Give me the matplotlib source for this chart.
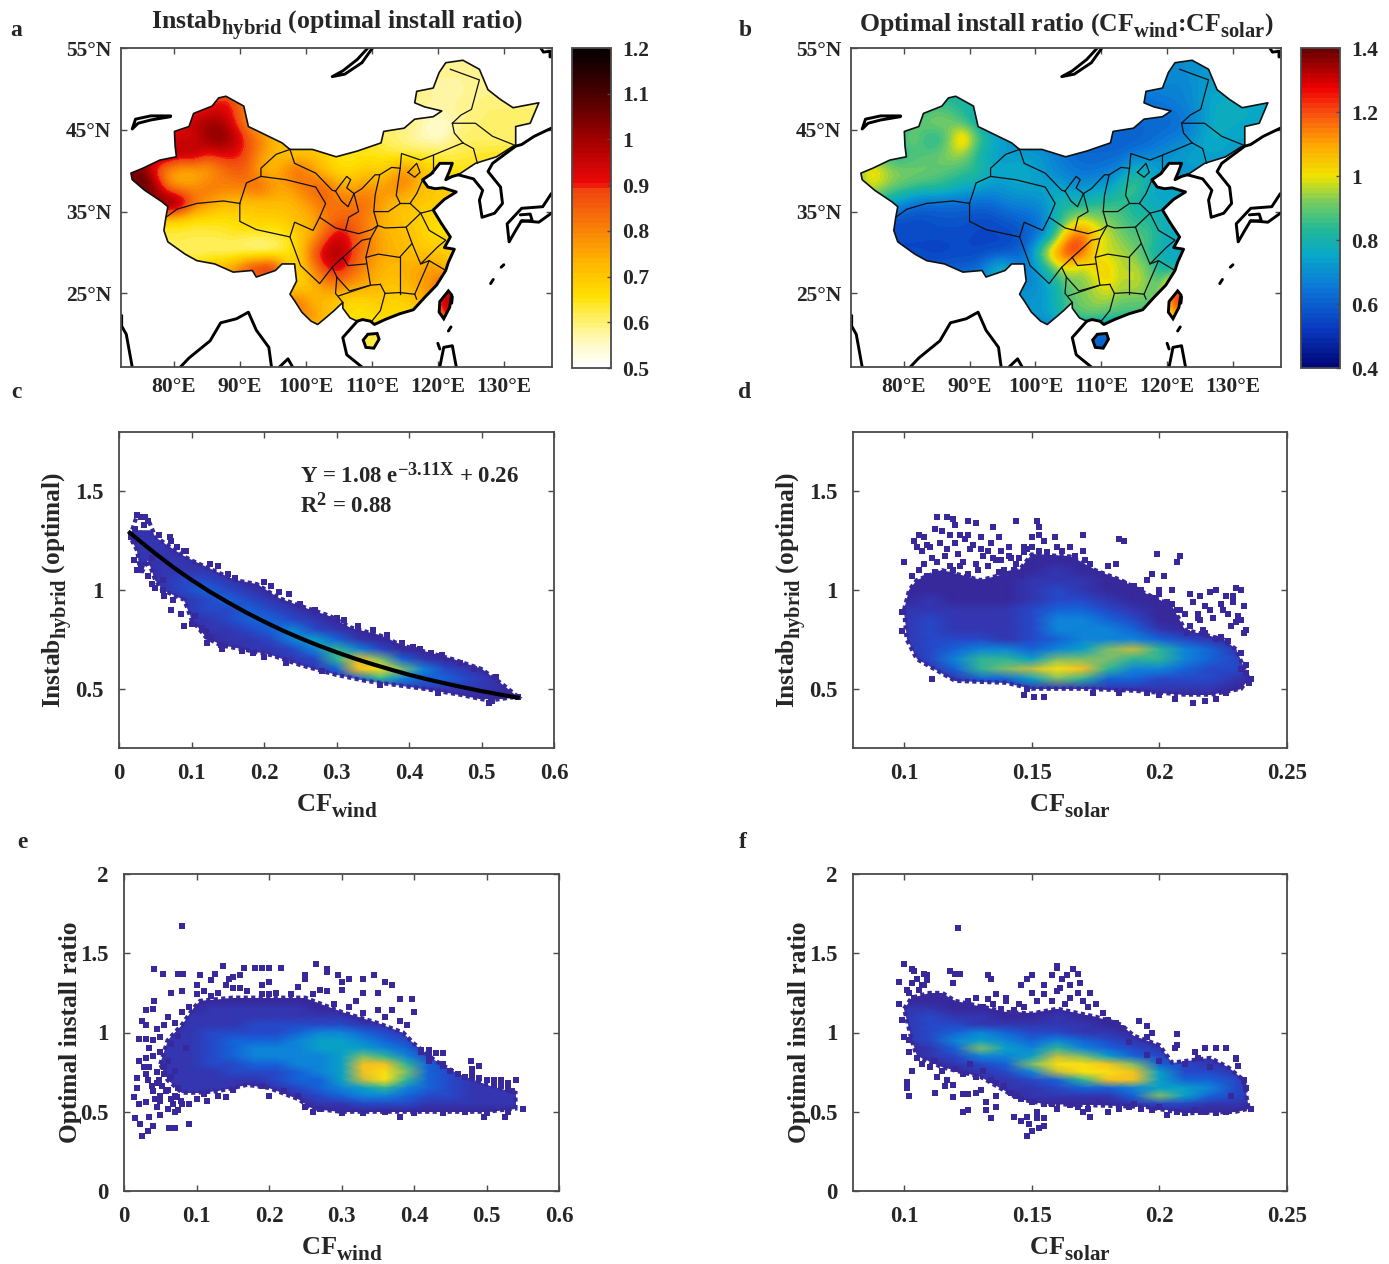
import numpy as np
import matplotlib
matplotlib.use('Agg')
import matplotlib.pyplot as plt
import matplotlib._mathtext as mt
from matplotlib.colors import LinearSegmentedColormap
from matplotlib.patches import PathPatch, Polygon
from matplotlib.path import Path

plt.rcParams['font.family'] = ['Liberation Serif', 'DejaVu Serif']
plt.rcParams['font.weight'] = 'bold'
plt.rcParams['mathtext.fontset'] = 'custom'
plt.rcParams['mathtext.rm'] = 'Liberation Serif:bold'
plt.rcParams['mathtext.it'] = 'Liberation Serif:bold'
plt.rcParams['mathtext.bf'] = 'Liberation Serif:bold'
plt.rcParams['mathtext.default'] = 'rm'
# the subscripts in the picture are larger and sit lower than the defaults
mt.SHRINK_FACTOR = 0.8
mt.FontConstantsBase.sub1 = 0.55

W, H = 1389, 1264
TXT = '#262626'
EDGE = '#4a4a4a'
TICK_FS = 15.5
CLOUD = '#37289b'

# ---- map data, lon/lat
map_lons = [73, 75, 77, 79, 81, 83, 85, 87, 89, 91, 93, 95, 97, 99, 101, 103,
            105, 107, 109, 111, 113, 115, 117, 119, 121, 123, 125, 127, 129, 131, 133, 135]
map_lats = [54, 52, 50, 48, 46, 44, 42, 40, 38, 36, 34, 32, 30, 28, 26, 24, 22, 20, 18]

instab_map = [
    [60,60,60,60,60,60,60,60, 60,60,60,60,60,60,60,60, 60,60,60,60,60,60,60,60, 58,58,58,58,58,58,58,58],
    [60,60,60,60,60,60,60,60, 60,60,60,60,60,60,60,60, 60,60,60,60,60,60,60,58, 58,58,58,58,58,58,58,58],
    [85,85,85,85,85,85,85,85, 85,80,70,65,65,65,65,65, 65,65,65,65,65,60,60,57, 57,57,58,58,58,58,58,58],
    [85,85,85,85,85,85,88,92, 90,80,70,65,65,65,65,65, 65,65,65,65,65,60,58,58, 58,58,58,60,60,60,60,60],
    [85,85,85,85,90,98,100,100, 90,80,70,65,65,65,65,65, 65,65,62,60,60,60,58,54, 54,58,60,60,60,60,60,60],
    [85,85,88,92,95,92,102,105, 100,88,82,75,70,68,66,65, 64,63,63,62,60,58,56,54, 55,60,60,60,60,60,60,60],
    [95,95,100,102,98,100,90,92, 92,88,78,72,70,70,72,68, 65,64,65,64,63,62,62,63, 62,62,63,64,64,64,64,64],
    [100,108,88,76,72,72,74,80, 85,85,74,72,80,85,76,70, 66,66,70,68,72,80,75,68, 66,65,65,65,65,65,65,65],
    [100,112,105,80,76,78,82,82, 80,82,86,78,75,80,85,86, 76,75,78,76,80,80,72,70, 70,68,66,66,66,66,66,66],
    [80,88,105,112,105,85,78,72, 72,70,70,72,72,74,78,84, 82,82,84,78,72,70,70,70, 68,68,66,66,66,66,66,66],
    [70,72,68,66,66,64,65,65, 66,68,70,68,70,72,74,80, 84,85,80,74,72,70,68,66, 66,66,66,66,66,66,66,66],
    [68,66,64,62,62,62,62,62, 64,62,62,62,64,70,74,86, 96,88,82,76,72,72,70,66, 66,66,66,66,66,66,66,66],
    [66,64,62,60,62,60,60,60, 58,58,56,58,62,68,86,98, 100,90,82,76,74,72,70,70, 70,66,66,66,66,66,66,66],
    [66,66,66,66,66,66,72,74, 80,92,98,100,72,68,78,90, 94,85,78,74,72,74,76,78, 72,72,72,72,72,72,72,72],
    [72,72,72,72,72,72,72,72, 72,72,72,72,70,65,72,78, 80,76,76,72,70,72,76,76, 92,92,72,72,72,72,72,72],
    [72,72,72,72,72,72,72,72, 72,72,72,72,78,85,72,72, 68,66,66,70,68,68,72,80, 100,100,72,72,72,72,72,72],
    [72,72,72,72,72,72,72,72, 72,72,72,72,78,78,80,72, 68,66,66,66,66,66,66,66, 90,90,72,72,72,72,72,72],
    [66,66,66,66,66,66,66,66, 66,66,66,66,66,66,66,66, 66,66,62,62,66,66,66,66, 66,66,66,66,66,66,66,66],
    [66,66,66,66,66,66,66,66, 66,66,66,66,66,66,66,66, 66,66,62,62,66,66,66,66, 66,66,66,66,66,66,66,66],
]
ratio_map = [
    [70,70,70,70,70,70,70,70, 70,70,70,70,70,70,70,70, 70,70,70,70,70,70,70,70, 70,70,70,70,70,70,70,70],
    [70,70,70,70,70,70,70,70, 70,70,70,70,70,70,70,70, 70,70,70,70,70,70,70,70, 68,70,72,72,72,72,72,72],
    [80,80,80,80,80,80,80,80, 80,75,70,65,65,65,65,65, 65,65,65,65,65,65,66,68, 68,68,72,74,74,74,74,74],
    [80,80,80,80,80,82,85,85, 82,80,70,65,65,65,65,65, 65,65,65,65,65,62,64,64, 66,68,72,76,78,76,76,76],
    [80,80,80,80,85,92,95,92, 85,78,70,65,65,65,65,62, 62,62,62,62,62,62,62,62, 62,66,70,76,78,76,76,76],
    [85,85,80,80,95,85,80,92, 112,92,80,75,70,68,66,62, 60,60,60,60,60,60,62,64, 66,68,74,78,74,74,74,74],
    [90,90,85,80,85,88,90,95, 95,82,75,72,72,72,72,68, 64,62,62,62,62,66,66,70, 72,74,74,74,74,74,74,74],
    [90,105,98,94,92,92,90,88, 85,85,78,75,78,75,72,68, 66,64,64,66,70,80,78,72, 72,72,72,72,72,72,72,72],
    [90,100,95,90,88,85,85,82, 78,75,72,72,74,75,74,76, 72,70,74,72,82,90,78,74, 74,74,74,74,74,74,74,74],
    [82,80,78,72,65,62,62,62, 62,62,62,66,68,68,70,78, 82,80,82,85,85,80,76,76, 76,74,74,74,74,74,74,74],
    [62,60,58,56,56,56,58,58, 58,56,56,58,60,62,66,78, 90,100,95,92,88,84,84,78, 78,78,78,78,78,78,78,78],
    [60,58,56,56,56,56,56,56, 56,55,55,55,56,60,66,85, 115,120,105,98,92,88,88,80, 76,76,76,76,76,76,76,76],
    [60,58,56,55,55,55,54,55, 56,55,56,56,60,66,95,115, 125,122,100,96,96,92,84,78, 75,75,75,75,75,75,75,75],
    [60,60,60,60,60,60,60,60, 60,62,75,85,70,66,75,90, 100,92,104,105,95,98,92,80, 78,78,78,78,78,78,78,78],
    [70,70,70,70,70,70,70,70, 70,70,70,70,68,68,72,78, 90,92,95,102,95,98,92,90, 120,120,70,70,70,70,70,70],
    [70,70,70,70,70,70,70,70, 70,70,70,70,72,72,72,78, 88,92,95,95,90,90,90,90, 125,125,70,70,70,70,70,70],
    [70,70,70,70,70,70,70,70, 70,70,70,70,72,72,72,78, 85,88,88,85,85,85,85,85, 110,110,70,70,70,70,70,70],
    [60,60,60,60,60,60,60,60, 60,60,60,60,60,60,60,60, 60,60,60,60,60,60,60,60, 60,60,60,60,60,60,60,60],
    [60,60,60,60,60,60,60,60, 60,60,60,60,60,60,60,60, 60,60,60,60,60,60,60,60, 60,60,60,60,60,60,60,60],
]

china_coast = [(123.1,39.5),(122.2,39.3),(121.2,38.9),(121.7,39.8),(122.2,40.9),(121.2,40.9),(120.3,40.9),(119,39.6),(117.7,38.9),
               (118.5,38),(119.6,37.8),(120.8,37.9),(122.8,37.4),(121,36.5),(119.3,35.2),(120.5,33.6),(121.9,31.9),(121,30.6),
               (122.5,30.4),(121.6,28.8),(121.2,27.8),(119.8,26),(118,24.5),(116.3,23),(114.2,22.5),(112,21.8),(110.4,21.2),
               (109.8,21.6),(108.6,21.8),(107.8,21.6)]
china_land = [(106.7,22),(105.6,23.2),(105.6,23.9),(104.3,22.9),(103,22),(101.8,21.2),(100.8,21.6),(99.4,22.7),(98.3,24.1),(97.6,24.9),
              (98.6,26.5),(98.3,28.6),(96.4,28.6),(95.4,27.8),(92.5,27),(91.9,27.8),(89,27.6),(86.2,28.6),(83.5,29),(81.7,29.8),(79.1,31.3),
              (78.5,32.7),(78.8,34.3),(79.1,35.6),(78.2,36.2),(75.6,37.6),(73.7,38.9),(73.5,39.7),(75.3,40.3),
              (77.9,41.3),(80.4,41.7),(80.2,43),(80.1,44.8),(82.3,45.4),(83,47),(85.8,47.9),(86.8,48.9),(87.9,49.1),
              (90.6,47.9),(91.3,45.4),(96.4,43.4),(97.6,42.6),(101,42.6),(104.6,41.7),(107.8,42.4),(111.4,43.4),(111.8,44.8),
              (114.9,45.2),(116.5,46.3),(119.3,46.6),(120.6,47.3),(118,47.8),(116.5,48.3),(116.8,49.7),(119.3,50.1),(120.2,52),(121.2,53.2),(123.8,53.5),
              (126.3,52.4),(127.6,49.9),(129.5,48.7),(131.4,47.7),(135.3,48.3),(134,45.8),(131.8,45.4),(131.8,43.2),(128.9,41.7),
              (125.7,40.9)]
taiwan = [(121.6,25.3),(122.1,24.8),(121.8,23.3),(120.9,21.9),(120.2,22.7),(120.3,24)]
hainan = [(109.4,20),(110.8,20.1),(111.1,19.4),(110.3,18.3),(109.1,18.4),(108.7,19.3)]

other_coasts = [
    [(109.4,55),(107.8,53.6),(105.6,52.2),(104,51.5),(105.9,51.8),(108.5,53.2),(110.1,55)],
    [(79.5,46.7),(76.5,46.7),(74.2,46.3),(73.7,45.1),(74.6,45.8),(76.5,46.2),(79.5,46.6)],
    [(135.6,55),(136,54.5),(137,54.6),(137,53.9)],
    [(123.1,39.5),(125.4,39),(126.8,37.6),(126.3,36.4),(126.7,34.3),(128.6,34.8),(129.8,36),(129.5,38),
     (127.6,39.9),(128.3,40.9),(131.8,43),(132.7,43.2),(134.6,44.2),(137.2,45.2)],
    [(137.2,37.2),(135.9,35.6),(132.7,35.4),(130.5,33.5),(130.8,31.3),(131.8,32.7),(132.7,33.9),(135.3,33.7),(137.2,34.8)],
    [(132.5,34.6),(134,34.7),(134.3,33.9),(132.6,33.8)],
    [(129.6,28.2),(130,28.5)],
    [(128,26.2),(128.4,26.7)],
    [(122.2,24.6),(122.1,23.8)],
    [(122,20.9),(121.6,20.4)],
    [(72.1,22.3),(72.1,21),(72.8,20),(73.7,16)],
    [(81,16),(82.3,17.1),(85.5,19.2),(87.1,21.4),(89.5,21.9),(91.3,22.7),(92.5,20.5),(94.4,18.4),(94.8,16)],
    [(96,16),(97.3,17),(98,16)],
    [(107.8,21.6),(105.6,19.6),(106.2,17.5),(108.5,16)],
    [(120.3,16),(120.9,18.4),(122.2,18.6),(122.8,16)],
    [(120,18.9),(120.3,18.2)],
]
province_lines = [
    [(78.8,34.3),(80.5,35.3),(83.5,36),(87.5,36.3),(90,36)],
    [(90,36),(91,38.5),(93.2,39.3),(93.2,40.3),(95.5,42),(97.6,42.6)],
    [(93.2,39.3),(97,38.9),(101.5,38),(103,36),(102.1,34.3),(101.1,32.7),(98.3,33.7),(97.6,31.9),(92.5,32.8),(90,33.8),(90,36)],
    [(97.6,31.9),(99.2,28.4),(102.1,26.2),(104,28.2),(104.7,27),(106.6,25.3),(109.8,26),(111.3,26.1)],
    [(104.7,27),(104.5,25),(105.6,23.9)],
    [(97.6,42.6),(98.3,40.9),(101.5,39.7),(104,37.6),(104.5,37.5)],
    [(102.1,34.3),(104.5,33),(106,32.7),(106.5,34.3),(108,35),(107.3,37.2)],
    [(104.5,37.5),(106.2,39.3),(106.8,38.9),(106.2,37.9),(107.3,37.2),(106.4,35.6),(105.4,36.3),(104.5,37.5)],
    [(107.3,37.2),(108.5,37.8),(110.5,39.5),(111.2,39.5),(110.5,37),(110.3,35),(110.9,33.3),(110,32.8),(108,32.3),(106,32.7)],
    [(111.2,39.5),(113,40.4),(114.3,40.3),(113.7,37),(114.3,36),(112.5,35),(110.3,35)],
    [(114.3,40.3),(114.5,42.1),(117.4,41.3),(119.3,41.9),(123.8,43.4)],
    [(119.3,39.7),(119.3,41.9)],
    [(115.5,39.8),(116.8,40.9),(117.3,39.8),(116.5,39.2),(115.5,39.8)],
    [(123.8,43.4),(125.4,42.7),(126,40.9)],
    [(121.9,52.4),(126.3,51.1),(125.1,47.5),(123.5,46.8),(122.2,45.8),(122.5,44.6),(123.8,43.4)],
    [(122.2,45.8),(125.7,45.8),(128.3,44.2),(131.4,43.2)],
    [(117.7,38.9),(116.8,37.2),(115.8,36),(117.4,34.8),(119.3,35.2)],
    [(114.3,36),(115.8,36)],
    [(110.9,33.3),(112,33),(115.2,33.1),(117.4,34.8)],
    [(115.2,33.1),(116.1,31.1),(114.2,29.4),(111,29.8),(109.1,29.4),(109.8,31.7),(110.9,33.3)],
    [(117.4,34.8),(118.7,32.7),(121.2,31.5),(120,30.7),(117.4,28.6),(116.1,31.1)],
    [(114.2,29.4),(114.2,24.9)],
    [(117.4,28.6),(118.7,29),(116.5,24.9),(116.8,24.3)],
    [(118.7,29),(121.2,27.8)],
    [(111.3,26.1),(112,25),(114.2,25.1),(116.5,24.9)],
    [(112,25),(111.3,22.9),(110,21.6)],
    [(105,24.7),(109.8,26),(109.1,29.4)],
    [(104,28.2),(105.6,29.4),(108.5,31.5),(109.8,31.7)],
    [(105.6,29.4),(106.4,28.4),(109.1,28.6)],
]

map_lon_ticks = [80, 90, 100, 110, 120, 130]
map_lat_ticks = [25, 35, 45, 55]

# ---- scatter density, levels 0-10
wind_x = [0, .03, .06, .09, .12, .15, .18, .21, .24, .27, .30, .33, .36, .39, .42, .45, .48, .51, .54, .57]
solar_x = [.09, .10, .11, .12, .13, .14, .15, .16, .17, .18, .19, .20, .21, .22, .23, .24]
y_inst = [1.30, 1.25, 1.20, 1.15, 1.10, 1.05, 1.00, .95, .90, .85, .80, .75, .70, .65, .60, .55, .50, .45]
y_ratio = [1.25, 1.20, 1.15, 1.10, 1.05, 1.00, .95, .90, .85, .80, .75, .70, .65, .60, .55, .50, .45]

dens_c = [
    [0,1,0,0,0,0,0,0,0,0,0,0,0,0,0,0,0,0,0,0],
    [0,1,1,0,0,0,0,0,0,0,0,0,0,0,0,0,0,0,0,0],
    [0,1,1,0,0,0,0,0,0,0,0,0,0,0,0,0,0,0,0,0],
    [0,1,1,1,0,0,0,0,0,0,0,0,0,0,0,0,0,0,0,0],
    [0,0,1,1,1,0,0,0,0,0,0,0,0,0,0,0,0,0,0,0],
    [0,0,1,2,2,1,0,0,0,0,0,0,0,0,0,0,0,0,0,0],
    [0,0,1,2,3,2,1,0,0,0,0,0,0,0,0,0,0,0,0,0],
    [0,0,0,1,2,3,2,1,0,0,0,0,0,0,0,0,0,0,0,0],
    [0,0,0,1,2,2,3,2,1,0,0,0,0,0,0,0,0,0,0,0],
    [0,0,0,1,1,2,3,3,2,1,0,0,0,0,0,0,0,0,0,0],
    [0,0,0,0,1,1,2,3,4,2,1,0,0,0,0,0,0,0,0,0],
    [0,0,0,0,0,1,1,2,4,5,3,1,0,0,0,0,0,0,0,0],
    [0,0,0,0,0,0,1,1,2,4,6,4,2,0,0,0,0,0,0,0],
    [0,0,0,0,0,0,0,1,1,2,6,9,7,3,1,0,0,0,0,0],
    [0,0,0,0,0,0,0,0,1,1,3,9,10,7,4,2,1,0,0,0],
    [0,0,0,0,0,0,0,0,0,0,1,3,6,4,3,3,2,1,0,0],
    [0,0,0,0,0,0,0,0,0,0,0,0,1,1,1,1,1,1,0,0],
    [0,0,0,0,0,0,0,0,0,0,0,0,0,0,0,0,0,0,0,0],
]
dens_d = [
    [0,0,0,0,0,0,0,0,0,0,0,0,0,0,0,0],
    [0,0,0,0,0,0,0,0,0,0,0,0,0,0,0,0],
    [0,0,0,0,0,0,0,0,0,0,0,0,0,0,0,0],
    [0,0,0,0,0,0,0,0,0,0,0,0,0,0,0,0],
    [0,0,0,0,0,0,0,1,0,0,0,0,0,0,0,0],
    [0,0,0,0,0,0,1,1,1,0,0,0,0,0,0,0],
    [0,0,0,0,0,0,1,2,1,0,0,0,0,0,0,0],
    [0,0,1,0,0,0,1,2,2,1,0,0,0,0,0,0],
    [0,1,1,1,1,1,2,3,3,2,1,0,0,0,0,0],
    [0,1,2,1,1,1,2,4,4,3,2,0,0,0,0,0],
    [0,1,2,1,1,1,2,4,4,4,3,1,0,0,0,0],
    [0,1,2,2,2,1,2,3,4,4,4,3,2,1,0,0],
    [0,1,2,3,4,4,3,4,5,7,8,6,4,3,1,0],
    [0,0,2,4,6,6,5,7,7,7,6,6,4,3,2,0],
    [0,0,1,3,6,7,8,10,9,6,4,4,3,2,2,0],
    [0,0,0,1,3,3,5,7,6,3,3,2,2,2,1,0],
    [0,0,0,0,0,0,1,1,1,1,1,1,1,1,0,0],
    [0,0,0,0,0,0,0,0,0,0,0,0,0,0,0,0],
]
dens_e = [
    [0,0,0,0,0,0,0,0,0,0,0,0,0,0,0,0,0,0,0,0],
    [0,0,0,0,0,0,0,0,0,0,0,0,0,0,0,0,0,0,0,0],
    [0,0,0,0,1,1,1,1,1,0,0,0,0,0,0,0,0,0,0,0],
    [0,0,0,1,1,1,1,1,1,1,1,0,0,0,0,0,0,0,0,0],
    [0,0,0,1,1,1,2,2,2,2,2,1,1,0,0,0,0,0,0,0],
    [0,0,1,1,2,2,2,2,3,4,4,3,2,1,0,0,0,0,0,0],
    [0,0,1,1,2,3,3,3,4,5,5,4,3,2,0,0,0,0,0,0],
    [0,1,1,1,2,3,4,4,4,5,5,5,4,3,1,0,0,0,0,0],
    [0,1,1,1,2,3,4,4,4,4,5,7,6,4,2,1,0,0,0,0],
    [0,0,1,1,2,2,3,3,4,4,5,9,9,6,3,1,0,0,0,0],
    [0,0,1,1,1,2,2,2,3,4,5,9,10,7,3,2,1,0,0,0],
    [0,0,1,1,1,1,1,2,3,3,5,8,10,6,3,2,1,1,0,0],
    [0,0,1,1,1,1,0,1,2,3,4,5,6,4,3,2,1,1,1,0],
    [0,0,1,1,0,0,0,0,1,2,3,4,4,3,2,2,1,1,1,0],
    [0,0,0,0,0,0,0,0,0,1,1,2,2,2,1,1,1,1,1,0],
    [0,0,0,0,0,0,0,0,0,0,0,0,0,0,0,0,0,0,0,0],
    [0,0,0,0,0,0,0,0,0,0,0,0,0,0,0,0,0,0,0,0],
]
dens_f = [
    [0,0,0,0,0,0,0,0,0,0,0,0,0,0,0,0],
    [0,0,0,0,0,0,0,0,0,0,0,0,0,0,0,0],
    [0,1,1,0,0,0,0,0,0,0,0,0,0,0,0,0],
    [0,1,2,1,1,0,0,1,0,0,0,0,0,0,0,0],
    [0,1,2,2,1,1,1,1,1,0,0,0,0,0,0,0],
    [0,1,2,3,4,3,2,2,1,1,0,0,0,0,0,0],
    [0,1,2,4,5,4,3,4,3,2,1,0,0,0,0,0],
    [0,0,1,3,7,5,4,6,4,3,2,1,0,0,0,0],
    [0,0,1,2,4,4,5,8,7,5,3,2,1,1,0,0],
    [0,0,0,1,2,3,7,10,10,9,7,3,2,1,1,0],
    [0,0,0,0,1,2,4,8,10,10,9,5,2,2,1,0],
    [0,0,0,0,1,1,2,3,6,9,9,5,3,3,2,0],
    [0,0,0,0,0,1,1,2,3,3,4,5,5,4,2,1],
    [0,0,0,0,0,0,1,1,1,1,3,7,5,3,2,0],
    [0,0,0,0,0,0,0,0,0,0,1,2,2,1,1,0],
    [0,0,0,0,0,0,0,0,0,0,0,0,0,0,0,0],
    [0,0,0,0,0,0,0,0,0,0,0,0,0,0,0,0],
]

# cloud outlines
env_c = [(0.015,1.27),(0.025,1.38),(0.04,1.36),(0.05,1.27),(0.07,1.22),(0.09,1.17),(0.1,1.15),(0.13,1.1),(0.16,1.05),
         (0.19,1.03),(0.22,0.96),(0.25,0.92),(0.29,0.87),(0.32,0.81),(0.36,0.77),(0.39,0.72),(0.42,0.69),(0.46,0.65),
         (0.5,0.6),(0.53,0.52),(0.55,0.46),(0.51,0.44),(0.47,0.47),(0.42,0.5),(0.38,0.52),(0.34,0.54),(0.3,0.57),
         (0.25,0.62),(0.21,0.67),(0.17,0.7),(0.14,0.72),(0.12,0.76),(0.1,0.85),(0.09,0.95),(0.06,1.0),(0.05,1.05),
         (0.04,1.15),(0.03,1.08),(0.025,1.2)]
env_d = [(0.1,0.9),(0.102,1.0),(0.105,1.05),(0.115,1.1),(0.13,1.05),(0.145,1.1),(0.15,1.18),(0.165,1.17),
         (0.175,1.1),(0.185,1.05),(0.195,0.98),(0.205,0.92),(0.21,0.8),(0.225,0.75),(0.23,0.7),(0.235,0.55),
         (0.232,0.5),(0.22,0.47),(0.21,0.47),(0.19,0.49),(0.17,0.5),(0.15,0.5),(0.14,0.53),(0.12,0.54),(0.105,0.65),(0.101,0.75)]
env_e = [(0.05,0.8),(0.06,0.95),(0.08,1.05),(0.095,1.15),(0.105,1.2),(0.15,1.22),(0.2,1.22),(0.25,1.22),(0.3,1.13),(0.35,1.06),(0.385,1.0),
         (0.4,0.93),(0.43,0.82),(0.46,0.74),(0.5,0.67),(0.54,0.62),(0.54,0.52),(0.5,0.5),(0.45,0.5),(0.38,0.5),(0.3,0.5),
         (0.26,0.52),(0.24,0.58),(0.2,0.65),(0.17,0.67),(0.13,0.63),(0.1,0.62),(0.08,0.62),(0.06,0.7)]
env_f = [(0.1,1.15),(0.103,1.22),(0.11,1.25),(0.115,1.25),(0.12,1.2),(0.14,1.13),(0.15,1.12),(0.16,1.15),(0.175,1.1),
         (0.185,1.05),(0.19,0.98),(0.2,0.92),(0.205,0.81),(0.22,0.84),(0.227,0.78),(0.233,0.7),(0.235,0.52),(0.23,0.5),
         (0.21,0.49),(0.195,0.53),(0.175,0.54),(0.155,0.55),(0.145,0.58),(0.13,0.72),(0.115,0.78),(0.105,0.85),(0.103,0.95)]

# stray points, (x, y) pairs
stray_c = [(.025,1.38),(.03,1.37),(.036,1.37),(.04,1.35),(.055,1.28),(.07,1.27),(.072,1.25),(.08,1.22),(.09,1.2),(.093,1.2),
           (.125,1.13),(.137,1.12),(.2,1.04),(.21,1.02),(.235,.98),(.22,.99),(.3,.86),(.31,.85),(.37,.77),(.405,.71),(.415,.7),
           (.445,.67),(.52,.56),(.55,.46),(.51,.43),(.515,.44),(.02,1.25),(.02,1.15),(.025,1.1),(.03,1.12),(.04,1.07),(.045,1.03),
           (.05,1.01),(.06,1.0),(.062,.97),(.072,.9),(.09,.82),(.1,.83),(.12,.79),(.125,.76),(.122,.73),(.14,.72),(.142,.7),(.17,.69),
           (.185,.68),(.016,1.27),(.022,1.31),(.035,1.33),(.045,1.16),(.06,1.05),(.075,.95),(.085,.88),(.105,.87),(.115,.81),(.15,1.08),
           (.16,1.06),(.25,.93),(.27,.9),(.33,.82),(.35,.8),(.39,.73),(.43,.68),(.47,.63),(.49,.6),(.2,.66),(.23,.63),(.28,.59),(.36,.52),(.44,.48)]
stray_d = [(.113,1.37),(.117,1.37),(.119,1.36),(.12,1.33),(.125,1.35),(.128,1.34),(.144,1.35),(.152,1.35),(.153,1.32),(.1,1.14),
           (.104,1.25),(.106,1.28),(.108,1.27),(.105,1.22),(.109,1.23),(.112,1.31),(.115,1.3),(.118,1.28),(.122,1.28),(.125,1.28),
           (.13,1.27),(.135,1.32),(.137,1.27),(.133,1.2),(.138,1.2),(.141,1.22),(.147,1.22),(.15,1.27),(.153,1.28),(.155,1.25),
           (.159,1.27),(.165,1.22),(.17,1.28),(.17,1.2),(.173,1.13),(.18,1.12),(.183,1.13),(.184,1.26),(.186,1.25),(.199,1.18),
           (.208,1.17),(.207,1.14),(.197,1.08),(.202,1.07),(.195,1.05),(.205,1.0),(.212,.98),(.216,.97),(.22,.99),(.222,1.0),
           (.226,.97),(.23,1.01),(.232,1.0),(.229,.97),(.225,.9),(.232,.85),(.234,.8),(.233,.78),(.22,.9),(.215,.88),(.208,.9),
           (.205,.93),(.2,.98),(.19,1.0),(.099,.89),(.099,.79),(.111,.55),(.147,.47),(.151,.46),(.155,.46),(.148,.5),(.174,.48),
           (.184,.48),(.2,.47),(.206,.45),(.213,.43),(.218,.44),(.222,.45),(.226,.48),(.235,.53),(.236,.55),(.232,.68),(.195,.48),
           (.103,1.07),(.106,1.1),(.108,1.13),(.111,1.16),(.113,1.14),(.116,1.17),(.118,1.12),(.121,1.18),(.123,1.14),(.126,1.21),
           (.128,1.13),(.131,1.17),(.133,1.12),(.136,1.15),(.139,1.1),(.141,1.17),(.144,1.13),(.147,1.19),(.149,1.14),(.107,1.2),
           (.11,1.22),(.114,1.24),(.117,1.21),(.12,1.24),(.124,1.26),(.127,1.23),(.13,1.21),(.134,1.24),(.137,1.09),(.14,1.08),
           (.143,1.1),(.146,1.07),(.148,1.21),(.109,1.07),(.112,1.09),(.119,1.1),(.122,1.12),(.125,1.08),(.129,1.1),(.135,1.16),
           (.138,1.15),(.142,1.16),(.145,1.16),(.15,1.22),(.153,1.2),(.156,1.19),(.16,1.22),(.162,1.2),(.167,1.17),(.171,1.15),
           (.177,1.08),(.18,1.06),(.186,1.03),(.19,1.02),(.193,1.0),(.198,.96),(.2,1.0),(.203,.94),(.207,.9),(.21,.88),(.213,.94),
           (.216,.85),(.218,.92),(.221,.86),(.224,.93),(.227,.88),(.229,.94),(.231,.87),(.233,.92),(.212,.82),(.215,.86),(.218,.78),
           (.222,.75),(.225,.9),(.228,.82),(.23,.84),(.211,.78),(.217,.8),(.224,.76),(.227,.74),(.232,.6),(.234,.58),(.234,.62)]
stray_e = [(.08,1.67),(.042,1.4),(.054,1.37),(.075,1.37),(.082,1.37),(.105,1.36),(.125,1.37),(.137,1.42),(.165,1.41),(.18,1.41),
           (.19,1.41),(.2,1.41),(.217,1.41),(.265,1.43),(.28,1.4),(.28,1.38),(.25,1.36),(.25,1.34),(.295,1.36),(.3,1.32),(.31,1.34),
           (.33,1.34),(.345,1.36),(.36,1.32),(.37,1.3),(.38,1.21),(.397,1.21),(.4,1.13),(.35,1.25),(.33,1.25),(.3,1.27),(.27,1.27),
           (.2,1.32),(.19,1.3),(.16,1.36),(.15,1.35),(.145,1.34),(.14,1.3),(.12,1.33),(.1,1.3),(.08,1.26),(.065,1.25),(.042,1.2),
           (.03,1.14),(.04,1.15),(.025,1.07),(.03,1.05),(.02,.96),(.03,.96),(.02,.82),(.018,.71),(.018,.65),(.014,.59),(.02,.55),
           (.03,.56),(.015,.46),(.022,.42),(.04,.41),(.05,.48),(.035,.47),(.025,.35),(.033,.38),(.062,.4),(.07,.4),(.089,.42),
           (.075,.51),(.06,.52),(.045,.53),(.08,.55),(.55,.52),(.54,.7),(.52,.7),(.51,.7),(.49,.79),(.478,.82),(.48,.76),(.44,.87),
           (.42,.89),(.41,.88),(.525,.47),(.497,.47),(.38,.47),(.1,.58),(.115,.57),(.14,.59),(.2,.6),(.26,.5),(.25,.53),
           (.035,.9),(.04,.95),(.045,1.02),(.05,.97),(.055,1.05),(.06,1.1),(.065,.93),(.07,1.06),(.075,.98),(.08,1.13),(.085,.9),
           (.09,1.16),(.03,.84),(.035,.78),(.04,.85),(.045,.75),(.05,.88),(.055,.78),(.06,.82),(.065,.72),(.07,.76),(.075,.65),
           (.04,.63),(.045,.68),(.05,.6),(.055,.74),(.06,.64),(.065,.58),(.07,.6),(.028,.78),(.033,.7),(.038,.66),(.043,.58),
           (.048,.7),(.053,.66),(.058,.63),(.063,.71),(.068,.55),(.073,.59),(.078,.57),(.03,.74),(.1,1.24),(.11,1.26),(.13,1.25),
           (.15,1.28),(.17,1.26),(.19,1.24),(.21,1.25),(.23,1.24),(.26,1.24),(.29,1.18),(.31,1.16),(.33,1.12),(.36,1.1),(.38,1.07),
           (.39,1.05),(.12,1.23),(.16,1.28),(.2,1.24),(.24,1.29),(.28,1.26),(.32,1.2),(.35,1.14),(.37,1.14),(.41,.89),(.42,.85),
           (.43,.87),(.44,.79),(.45,.76),(.46,.74),(.47,.72),(.48,.77),(.49,.71),(.5,.7),(.51,.68),(.52,.66),(.53,.65),(.535,.63),
           (.42,.82),(.44,.8),(.46,.74),(.48,.72),(.51,.67),(.53,.68),(.05,.57),(.07,.5),(.09,.55),(.11,.61),(.13,.6),(.15,.64),
           (.19,.66),(.22,.63),(.24,.6),(.27,.52),(.3,.49),(.33,.49),(.36,.5),(.4,.49),(.44,.49),(.47,.5),(.5,.49),(.53,.5)]
stray_f = [(.121,1.66),(.1,1.43),(.103,1.4),(.104,1.39),(.118,1.39),(.12,1.37),(.122,1.37),(.133,1.36),(.134,1.34),(.119,1.31),
           (.098,1.32),(.108,1.37),(.109,1.33),(.148,1.34),(.15,1.36),(.146,1.3),(.155,1.3),(.158,1.36),(.16,1.41),(.16,1.42),
           (.164,1.36),(.162,1.34),(.165,1.3),(.166,1.4),(.168,1.37),(.169,1.31),(.173,1.25),(.161,1.28),(.15,1.25),(.14,1.22),
           (.136,1.24),(.133,1.21),(.192,1.07),(.195,1.04),(.197,1.0),(.195,.97),(.188,.94),(.207,.99),(.207,.92),(.206,.9),
           (.214,.88),(.218,.9),(.222,.9),(.226,.9),(.23,.83),(.231,.79),(.234,.65),(.233,.7),(.098,1.18),(.099,1.08),(.102,.95),
           (.103,.76),(.101,.69),(.101,.65),(.102,.6),(.112,.62),(.116,.66),(.119,.67),(.119,.59),(.123,.5),(.125,.51),(.123,.61),
           (.125,.61),(.128,.62),(.13,.64),(.132,.56),(.132,.51),(.136,.53),(.134,.46),(.136,.6),(.143,.47),(.146,.44),(.148,.35),
           (.15,.38),(.149,.42),(.152,.46),(.153,.4),(.155,.41),(.155,.46),(.148,.47),(.152,.5),(.17,.5),(.173,.47),(.236,.52),
           (.101,1.27),(.103,1.31),(.105,1.34),(.107,1.3),(.109,1.36),(.102,1.25),(.104,1.22),(.106,1.27),(.108,1.3),(.125,1.2),
           (.128,1.22),(.131,1.16),(.135,1.18),(.138,1.15),(.14,1.2),(.143,1.14),(.145,1.18),(.147,1.16),(.152,1.2),(.155,1.24),
           (.158,1.2),(.16,1.26),(.163,1.18),(.165,1.22),(.168,1.25),(.17,1.2),(.172,1.16),(.175,1.18),(.178,1.12),(.18,1.08),
           (.183,1.06),(.185,1.03),(.1,.97),(.102,.88),(.105,.84),(.107,.8),(.11,.78),(.112,.82),(.113,.72),(.115,.76),(.117,.7),
           (.12,.77),(.123,.74),(.126,.8),(.128,.72),(.131,.76),(.134,.7),(.136,.68),(.139,.66),(.142,.62),(.144,.6),(.146,.58),
           (.15,.56),(.155,.55),(.158,.55),(.16,.52),(.165,.54),(.168,.53),(.172,.52),(.176,.56),(.18,.5),(.184,.52),(.188,.53),
           (.19,.55),(.193,.52),(.197,.51),(.2,.53),(.203,.48),(.207,.5),(.21,.49),(.214,.51),(.218,.5),(.222,.49),(.226,.5),
           (.23,.84),(.195,.86),(.2,.82),(.21,.8),(.215,.84),(.22,.78),(.228,.6)]

fit_x = [.015,.03,.05,.075,.10,.125,.15,.175,.20,.225,.25,.275,.30,.325,.35,.375,.40,.425,.45,.475,.50,.525,.55]
fit_y = [1.29,1.244,1.185,1.115,1.051,.992,.938,.887,.84,.796,.756,.719,.685,.653,.624,.597,.571,.548,.527,.507,.488,.471,.455]

cmap_inst = LinearSegmentedColormap.from_list('inst', [
    (0, '#ffffff'), (.08, '#fff9b8'), (.16, '#ffee55'), (.22, '#ffe000'), (.33, '#ffb400'), (.45, '#f87808'),
    (.565, '#f04010'), (.575, '#ee0808'), (.72, '#a00000'), (.86, '#4a0000'), (1, '#060000')], N=64)
cmap_ratio = LinearSegmentedColormap.from_list('ratio', [
    (0, '#00087a'), (.12, '#0a3ac0'), (.25, '#0c78d8'), (.35, '#08a8c8'), (.43, '#20b898'), (.52, '#78cc60'),
    (.6, '#f0e400'), (.7, '#ffa800'), (.8, '#f85010'), (.88, '#f00000'), (1, '#6a0000')], N=64)
parula = LinearSegmentedColormap.from_list('par', [
    (0, CLOUD), (.1, '#3336b0'), (.2, '#2648c8'), (.3, '#1464d8'), (.4, '#0e84d8'), (.5, '#08a0c8'),
    (.6, '#2fb496'), (.7, '#7cbd6a'), (.8, '#c4bc40'), (.9, '#f4c020'), (1, '#fbe010')])

fig = plt.figure(figsize=(W / 100, H / 100), dpi=100)


def px_axes(x0, y0, x1, y1):
    return fig.add_axes([x0 / W, 1 - y1 / H, (x1 - x0) / W, (y1 - y0) / H])


def style(ax, size=TICK_FS, pad=7):
    for sp in ax.spines.values():
        sp.set_color(EDGE)
        sp.set_linewidth(1.3)
    ax.tick_params(direction='in', length=4, width=1, color=EDGE, top=True, right=True,
                   labelsize=size, labelcolor=TXT, pad=pad)


def draw_map(ax, field, cmap, vmin, vmax):
    coast = np.array(china_coast)
    china = np.vstack([coast, np.array(china_land)])
    verts, codes = [], []
    for poly in (china, np.array(taiwan), np.array(hainan)):
        verts += list(map(tuple, poly)) + [tuple(poly[0])]
        codes += [Path.MOVETO] + [Path.LINETO] * (len(poly) - 1) + [Path.CLOSEPOLY]
    clip = PathPatch(Path(verts, codes), transform=ax.transData, fc='none', ec='none')
    ax.add_patch(clip)
    im = ax.imshow(np.array(field) / 100., extent=[72, 136, 17, 55], origin='upper', aspect='auto',
                   cmap=cmap, vmin=vmin, vmax=vmax, interpolation='bicubic')
    im.set_clip_path(clip)
    ax.plot(*np.vstack([china[len(coast) - 1:], china[:1]]).T, color='#111111', lw=1.2)
    ax.plot(*coast.T, color='black', lw=2.1, solid_capstyle='round')
    for poly in (taiwan, hainan):
        ax.add_patch(Polygon(poly, closed=True, fc='none', ec='black', lw=2.1))
    for line in other_coasts:
        ax.plot(*np.array(line).T, color='black', lw=2.1, solid_capstyle='round', solid_joinstyle='round')
    for line in province_lines:
        ax.plot(*np.array(line).T, color='#111111', lw=0.9)
    ax.set_xlim(72, 137.3)
    ax.set_ylim(16, 55)
    ax.set_xticks(map_lon_ticks)
    ax.set_xticklabels(['%d°E' % v for v in map_lon_ticks])
    ax.set_yticks(map_lat_ticks)
    ax.set_yticklabels(['%d°N' % v for v in map_lat_ticks])
    style(ax)
    return im


def draw_cbar(im, cax, ticks, labels):
    cb = fig.colorbar(im, cax=cax)
    cb.set_ticks(ticks)
    cb.set_ticklabels(labels)
    cb.outline.set_edgecolor(EDGE)
    cb.outline.set_linewidth(1.3)
    cax.tick_params(direction='in', length=3, width=1, color=EDGE, labelsize=TICK_FS, labelcolor=TXT, pad=8)


def draw_cloud(ax, xs, ys, dens, env, stray):
    mesh = ax.pcolormesh(xs, ys, np.array(dens, float), cmap=parula, vmin=0, vmax=10, shading='gouraud')
    clip = Polygon(env, closed=True, transform=ax.transData, fc='none', ec='none')
    ax.add_patch(clip)
    mesh.set_clip_path(clip)
    ax.fill(*np.array(env).T, fc='none', ec=CLOUD, lw=3, ls=(0, (1.0, 0.8)))
    pts = np.array(stray)
    ax.scatter(pts[:, 0], pts[:, 1], marker='s', s=15, color=CLOUD, linewidths=0)
    style(ax, size=16.5, pad=11)


def finish(ax, xlim, ylim, xt, xl, yt, yl, xlabel, ylabel, ypad=0):
    ax.set_xlim(*xlim)
    ax.set_ylim(*ylim)
    ax.set_xticks(xt)
    ax.set_xticklabels(xl)
    ax.set_yticks(yt)
    ax.set_yticklabels(yl)
    ax.set_xlabel(xlabel, fontsize=19, fontweight='bold', color=TXT, labelpad=6)
    ax.set_ylabel(ylabel, fontsize=18.3, fontweight='bold', color=TXT, labelpad=ypad)


ax_a = px_axes(121, 48, 552, 367)
im_a = draw_map(ax_a, instab_map, cmap_inst, .5, 1.2)
fig.text(337 / W, 1 - 26 / H, r'$\mathrm{Instab_{hybrid}}$ (optimal install ratio)', ha='center', va='center',
         fontsize=18.5, color=TXT)
cax_a = px_axes(572, 48, 611, 368)
draw_cbar(im_a, cax_a, [.5, .6, .7, .8, .9, 1, 1.1, 1.2], ['0.5', '0.6', '0.7', '0.8', '0.9', '1', '1.1', '1.2'])

ax_b = px_axes(851, 48, 1281, 367)
im_b = draw_map(ax_b, ratio_map, cmap_ratio, .4, 1.4)
fig.text(1066 / W, 1 - 26 / H, r'Optimal install ratio (CF$\mathrm{_{wind}}$:CF$\mathrm{_{solar}}$)', ha='center', va='center',
         fontsize=18.5, color=TXT)
cax_b = px_axes(1301, 48, 1340, 368)
draw_cbar(im_b, cax_b, [.4, .6, .8, 1, 1.2, 1.4], ['0.4', '0.6', '0.8', '1', '1.2', '1.4'])

wind_ticks = [0, .1, .2, .3, .4, .5, .6]
wind_labels = ['0', '0.1', '0.2', '0.3', '0.4', '0.5', '0.6']
solar_ticks = [.1, .15, .2, .25]
solar_labels = ['0.1', '0.15', '0.2', '0.25']
inst_label = r'$\mathrm{Instab_{hybrid}}$ (optimal)'
cf_wind = r'CF$\mathrm{_{wind}}$'
cf_solar = r'CF$\mathrm{_{solar}}$'

ax_c = px_axes(119, 432, 554, 748)
draw_cloud(ax_c, wind_x, y_inst, dens_c, env_c, stray_c)
ax_c.plot(fit_x, fit_y, color='black', lw=3)
finish(ax_c, (0, .6), (.2, 1.8), wind_ticks, wind_labels, [.5, 1, 1.5], ['0.5', '1', '1.5'], cf_wind, inst_label)
ax_c.text(.25, 1.58, r'Y = 1.08 e$\mathrm{^{-3.11X}}$ + 0.26', fontsize=16.5, color=TXT, va='center')
ax_c.text(.25, 1.43, r'R$\mathrm{^{2}}$ = 0.88', fontsize=16.5, color=TXT, va='center')

ax_d = px_axes(853, 432, 1287, 748)
draw_cloud(ax_d, solar_x, y_inst, dens_d, env_d, stray_d)
finish(ax_d, (.08, .25), (.2, 1.8), solar_ticks, solar_labels, [.5, 1, 1.5], ['0.5', '1', '1.5'], cf_solar, inst_label)

ax_e = px_axes(124, 874, 559, 1191)
draw_cloud(ax_e, wind_x, y_ratio, dens_e, env_e, stray_e)
finish(ax_e, (0, .6), (0, 2), wind_ticks, wind_labels, [0, .5, 1, 1.5, 2], ['0', '0.5', '1', '1.5', '2'],
       cf_wind, 'Optimal install ratio', ypad=-1)

ax_f = px_axes(853, 874, 1287, 1191)
draw_cloud(ax_f, solar_x, y_ratio, dens_f, env_f, stray_f)
finish(ax_f, (.08, .25), (0, 2), solar_ticks, solar_labels, [0, .5, 1, 1.5, 2], ['0', '0.5', '1', '1.5', '2'],
       cf_solar, 'Optimal install ratio', ypad=-1)

panel_tags = ['a', 'b', 'c', 'd', 'e', 'f']
tag_x = [16, 745, 16, 745, 22, 743]
tag_y = [31, 31, 393, 393, 842, 842]
for t, px, py in zip(panel_tags, tag_x, tag_y):
    fig.text(px / W, 1 - py / H, t, ha='center', va='center', fontsize=17, color=TXT)

fig.savefig('out.png', dpi=100)
